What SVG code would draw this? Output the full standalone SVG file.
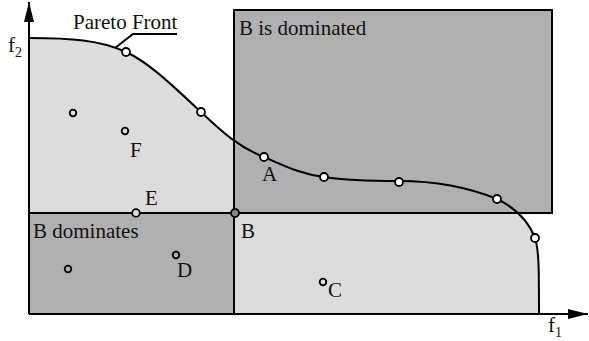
<svg xmlns="http://www.w3.org/2000/svg" width="589" height="341" viewBox="0 0 589 341">
<style>
text{font-family:'Liberation Serif','Times New Roman',Times,serif;font-size:21px;fill:#111}
.sub{font-size:14px}
.ln{stroke:#000;stroke-width:2;fill:none}
.dark{fill:#b0b0b0}
.pf{fill:#fff;stroke:#000;stroke-width:1.8}
.pt{fill:none;stroke:#000;stroke-width:1.8}
</style>
<defs>
<marker id="arr" markerWidth="20" markerHeight="10" refX="20" refY="5" orient="auto" markerUnits="userSpaceOnUse">
<path d="M0,0 L20,5 L0,10 Z" fill="#000"/>
</marker>
</defs>
<g id="regions">
<path d="M29,38 C70,38 100,40 126,52 C150,63 175,88 201,112 C222,132 240,148 264,157 C285,166 300,174 324,177 C350,181 375,181 399,181 C440,181 470,188 497,199 C520,210 530,225 535,238 C539,250 539,270 539,314 L29,314 Z" fill="#dcdcdc"/>
<rect id="b-is-dominated" x="234" y="10" width="318" height="203" class="dark" stroke="#000" stroke-width="2"/>
<rect id="b-dominates" x="29" y="213" width="205" height="101" class="dark"/>
</g>
<g id="connectors">
<line class="ln" x1="29" y1="213" x2="234" y2="213"/>
<line class="ln" x1="234" y1="10" x2="234" y2="314"/>
<line class="ln" x1="29" y1="314" x2="588" y2="314" marker-end="url(#arr)"/>
<line class="ln" x1="29" y1="314" x2="29" y2="2" marker-end="url(#arr)"/>
<path class="ln" d="M29,38 C70,38 100,40 126,52 C150,63 175,88 201,112 C222,132 240,148 264,157 C285,166 300,174 324,177 C350,181 375,181 399,181 C440,181 470,188 497,199 C520,210 530,225 535,238 C539,250 539,270 539,314"/>
<polyline class="ln" points="177,34 133,34 115,48" stroke-width="1.8"/>
</g>
<g id="front-points">
<circle class="pf" cx="126" cy="52" r="4"/>
<circle class="pf" cx="201" cy="112" r="4"/>
<circle id="A" class="pf" cx="264" cy="157" r="4"/>
<circle class="pf" cx="324" cy="177" r="4"/>
<circle class="pf" cx="399" cy="182" r="4"/>
<circle class="pf" cx="497" cy="199" r="4"/>
<circle class="pf" cx="535" cy="238" r="4"/>
</g>
<g id="points">
<circle class="pt" cx="73" cy="113" r="3.3"/>
<circle id="F" class="pt" cx="125" cy="131" r="3.3"/>
<circle id="E" class="pf" cx="136" cy="213" r="3.8" style="fill:#dcdcdc"/>
<circle id="B" class="pf" cx="235" cy="213" r="4" style="fill:#888"/>
<circle class="pt" cx="68" cy="269" r="3.3"/>
<circle id="D" class="pt" cx="176" cy="255" r="3.3"/>
<circle id="C" class="pt" cx="323" cy="282" r="3.3"/>
</g>
<g id="labels" font-family="Liberation Serif, serif">
<text x="73" y="29">Pareto Front</text>
<text x="239" y="35">B is dominated</text>
<text x="33" y="238">B dominates</text>
<text x="241" y="238">B</text>
<text x="130" y="157">F</text>
<text x="262" y="181">A</text>
<text x="145" y="205">E</text>
<text x="177" y="277">D</text>
<text x="328" y="297">C</text>
<text x="8" y="52">f<tspan class="sub" dy="5">2</tspan></text>
<text x="548" y="332">f<tspan class="sub" dy="5">1</tspan></text>
</g>
</svg>
